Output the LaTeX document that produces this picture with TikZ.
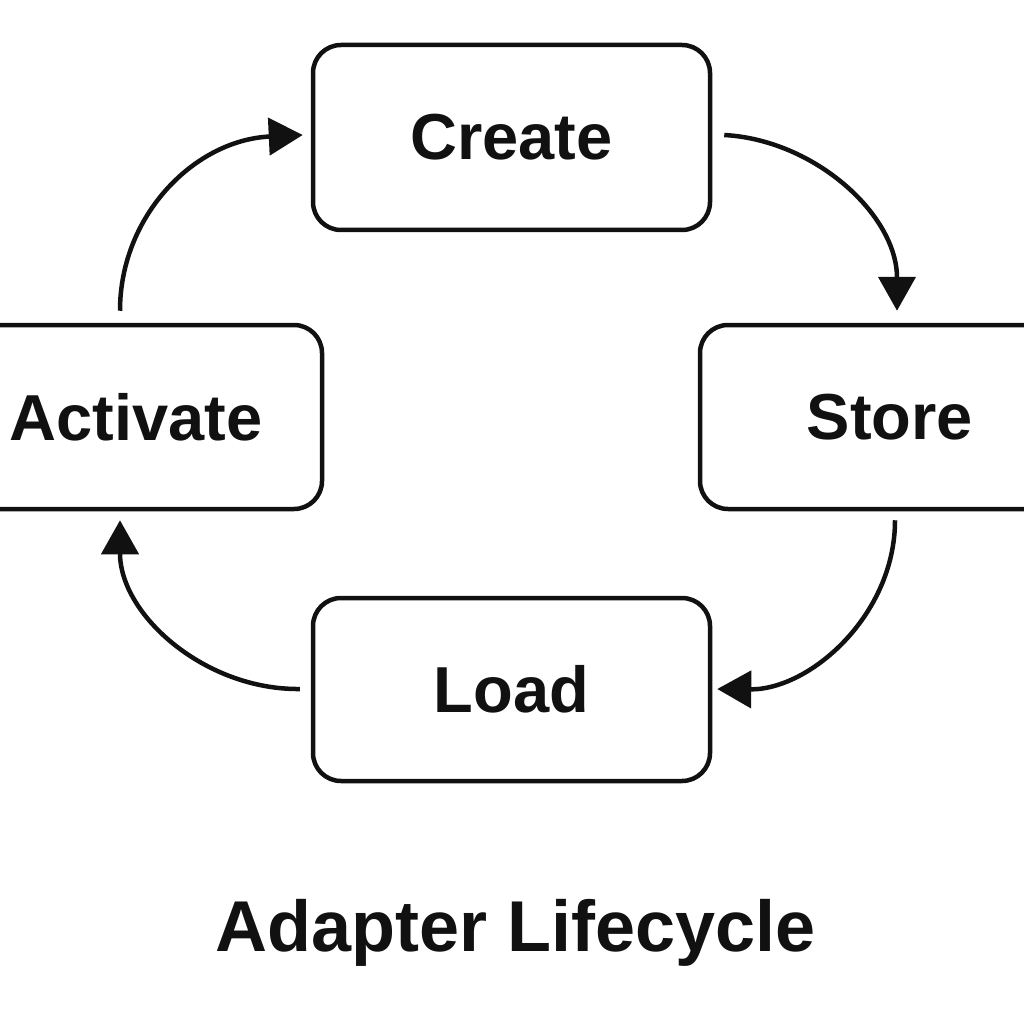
\documentclass[tikz,border=0pt]{standalone}
\usepackage{fontspec}
\setmainfont{Liberation Sans}
\usetikzlibrary{arrows.meta}
\definecolor{ink}{HTML}{111111}
\begin{document}
\begin{tikzpicture}[x=1pt,y=-1pt,
  box/.style={draw=ink, line width=4.5pt, rounded corners=28pt, inner sep=0pt,
    font=\fontsize{65}{70}\selectfont\bfseries, text=ink},
  flow/.style={draw=ink, line width=4.5pt, -{Triangle[length=34pt,width=37pt]}}]
\clip (0,0) rectangle (1024,1024);
\useasboundingbox (0,0) rectangle (1024,1024);
\node[box, minimum width=397pt, minimum height=185pt] (create) at (511.5,137.5) {Create};
\node[box, minimum width=380pt, minimum height=184pt] (store) at (890,417) {Store};
\node[box, minimum width=372pt, minimum height=184pt] (activate) at (136,417) {Activate};
\node[box, minimum width=397pt, minimum height=183pt] (load) at (511.5,689.5) {Load};
\node[font=\fontsize{72}{76}\selectfont\bfseries, text=ink] (title) at (516,933) {Adapter Lifecycle};
% connector ends
\coordinate (a1) at ([xshift=-16pt,yshift=12pt]activate.north);
\coordinate (c0) at ([xshift=-8pt,yshift=2.5pt]create.west);
\coordinate (c1) at ([xshift=12pt,yshift=2.5pt]create.east);
\coordinate (s0) at ([xshift=7pt,yshift=12pt]store.north);
\coordinate (s1) at ([xshift=5pt,yshift=-9pt]store.south);
\coordinate (l0) at ([xshift=5pt,yshift=0.5pt]load.east);
\coordinate (l1) at ([xshift=-11pt,yshift=0.5pt]load.west);
\coordinate (a0) at ([xshift=-16pt,yshift=-9pt]activate.south);
\draw[flow] (a1) .. controls (120,215) and (195,140) .. (c0);
\draw[flow] (c1) .. controls (815,140) and (897,215) .. (s0);
\draw[flow] (s1) .. controls (895,615) and (810,690) .. (l0);
\draw[flow] (l1) .. controls (205,690) and (120,615) .. (a0);
\end{tikzpicture}
\end{document}
